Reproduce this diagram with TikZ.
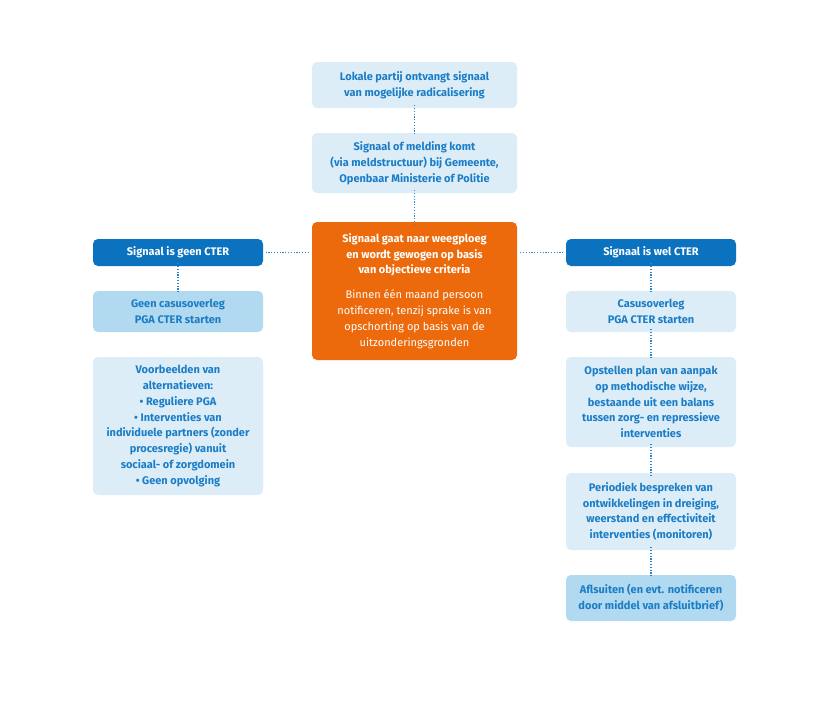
\documentclass[tikz,border=0pt]{standalone}
\usepackage{fontspec}
\setmainfont{Fira Sans}
\definecolor{lightbox}{HTML}{DDEDF8}
\definecolor{midbox}{HTML}{B1D9EF}
\definecolor{darkbox}{HTML}{0B72BF}
\definecolor{orangebox}{HTML}{EC6A0C}
\definecolor{bluetext}{HTML}{1B7DC6}
\definecolor{dotline}{HTML}{2A86CC}
\begin{document}
\begin{tikzpicture}[x=1pt,y=-1pt,
  base/.style={rounded corners=5pt, inner sep=0pt, align=center, font=\fontsize{11}{15.8}\selectfont\bfseries},
  lightb/.style={base, fill=lightbox, text=bluetext},
  midb/.style={base, fill=midbox, text=bluetext},
  darkb/.style={base, fill=darkbox, text=white},
  orangeb/.style={base, fill=orangebox, text=white},
  conn/.style={draw=dotline, line width=1.2pt, dash pattern=on 1.2pt off 1.6pt}]
\useasboundingbox[fill=white] (0,0) rectangle (830,702);
\node[lightb, minimum width=205pt, minimum height=46pt] (b1) at (414.5,85) {Lokale partij ontvangt signaal\\van mogelijke radicalisering};
\node[lightb, minimum width=205pt, minimum height=60pt] (b2) at (414.5,163) {Signaal of melding komt\\(via meldstructuur) bij Gemeente,\\Openbaar Ministerie of Politie};
\node[orangeb, minimum width=205pt, minimum height=138pt] (or) at (414.5,291) {Signaal gaat naar weegploeg\\en wordt gewogen op basis\\van objectieve criteria\\[9pt]{\mdseries Binnen één maand persoon}\\{\mdseries notificeren, tenzij sprake is van}\\{\mdseries opschorting op basis van de}\\{\mdseries uitzonderingsgronden}};
\node[darkb, minimum width=170pt, minimum height=27pt] (ld) at (178,252.5) {Signaal is geen CTER};
\node[midb, minimum width=170pt, minimum height=41pt] (lm) at (178,311.5) {Geen casusoverleg\\PGA CTER starten};
\node[lightb, minimum width=170pt, minimum height=138pt] (lb) at (178,426) {Voorbeelden van\\alternatieven:\\• Reguliere PGA\\• Interventies van\\individuele partners (zonder\\procesregie) vanuit\\sociaal- of zorgdomein\\• Geen opvolging};
\node[darkb, minimum width=170pt, minimum height=27pt] (rd) at (651,252.5) {Signaal is wel CTER};
\node[lightb, minimum width=170pt, minimum height=41pt] (rc) at (651,311.5) {Casusoverleg\\PGA CTER starten};
\node[lightb, minimum width=170pt, minimum height=90pt] (rp) at (651,402) {Opstellen plan van aanpak\\op methodische wijze,\\bestaande uit een balans\\tussen zorg- en repressieve\\interventies};
\node[lightb, minimum width=170pt, minimum height=77pt] (rm) at (651,511.5) {Periodiek bespreken van\\ontwikkelingen in dreiging,\\weerstand en effectiviteit\\interventies (monitoren)};
\node[midb, minimum width=170pt, minimum height=46pt] (ra) at (651,598) {Aflsuiten (en evt. notificeren\\door middel van afsluitbrief)};
% connectors
\draw[conn] ([yshift=3pt]b1.south) -- ([yshift=-3pt]b2.north);
\draw[conn] ([yshift=3pt]b2.south) -- ([yshift=-3pt]or.north);
\draw[conn] ([xshift=-3pt]or.west |- ld.east) -- ([xshift=3pt]ld.east);
\draw[conn] ([xshift=3pt]or.east |- rd.west) -- ([xshift=-3pt]rd.west);
\draw[conn] ([yshift=3pt]ld.south) -- ([yshift=-3pt]lm.north);
\draw[conn] ([yshift=3pt]rd.south) -- ([yshift=-3pt]rc.north);
\draw[conn] ([yshift=3pt]rc.south) -- ([yshift=-3pt]rp.north);
\draw[conn] ([yshift=3pt]rp.south) -- ([yshift=-3pt]rm.north);
\draw[conn] ([yshift=3pt]rm.south) -- ([yshift=-3pt]ra.north);
\end{tikzpicture}
\end{document}
